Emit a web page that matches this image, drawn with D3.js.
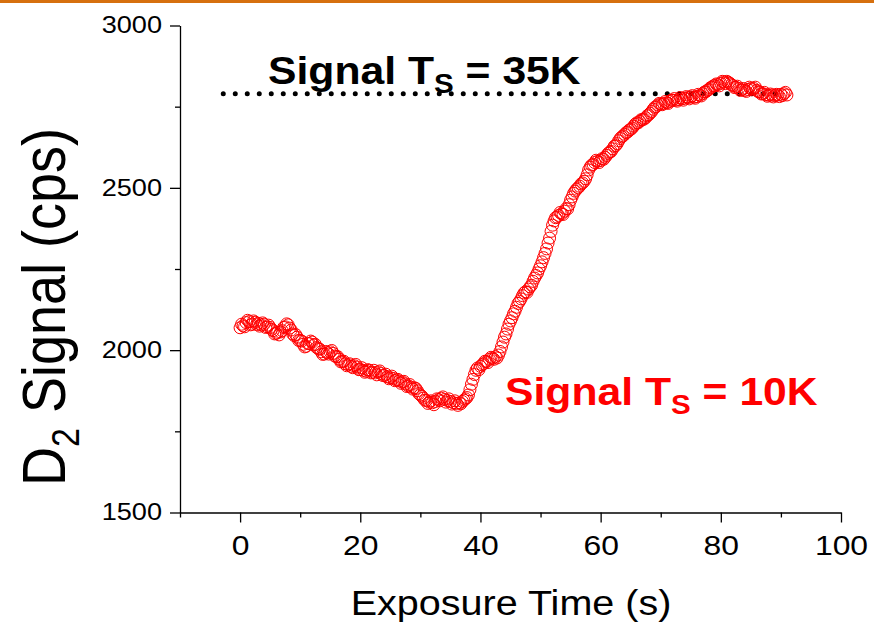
<!DOCTYPE html>
<html>
<head>
<meta charset="utf-8">
<script src="https://cdn.jsdelivr.net/npm/d3@7"></script>
<style>
  body { margin: 0; background: #fff; }
  svg text { font-family: "Liberation Sans", Arial, sans-serif; }
</style>
</head>
<body>
<div id="chart"></div>
<script>
// D2 signal, one reading every quarter second from t = 0
const sampleStep = 0.25;
const signalValues = [
  2069, 2080, 2075, 2072, 2085, 2092, 2088, 2078, 2080, 2090,
  2086, 2079, 2083, 2074, 2078, 2084, 2080, 2070, 2072, 2077,
  2070, 2064, 2060, 2050, 2052, 2055, 2047, 2056, 2060, 2070,
  2072, 2081, 2078, 2068, 2062, 2050, 2045, 2048, 2040, 2030,
  2030, 2028, 2018, 2010, 2012, 2021, 2020, 2028, 2025, 2016,
  2018, 2008, 2005, 2003, 1995, 1987, 1988, 1996, 1992, 1988,
  1995, 1999, 1990, 1982, 1980, 1980, 1972, 1964, 1965, 1966,
  1958, 1952, 1955, 1958, 1950, 1946, 1952, 1956, 1948, 1940,
  1940, 1946, 1938, 1932, 1935, 1940, 1938, 1930, 1932, 1938,
  1930, 1924, 1933, 1936, 1928, 1922, 1922, 1926, 1918, 1912,
  1915, 1920, 1913, 1906, 1908, 1910, 1905, 1898, 1902, 1904,
  1896, 1888, 1890, 1894, 1886, 1880, 1884, 1882, 1875, 1866,
  1862, 1858, 1852, 1846, 1845, 1836, 1840, 1844, 1838, 1832,
  1842, 1850, 1848, 1844, 1852, 1856, 1848, 1840, 1845, 1850,
  1842, 1834, 1838, 1844, 1836, 1830, 1838, 1835, 1842, 1846,
  1850, 1854, 1862, 1878, 1895, 1910, 1925, 1938, 1945, 1940,
  1950, 1955, 1958, 1966, 1965, 1962, 1972, 1978, 1975, 1972,
  1980, 1976, 1985, 1996, 2010, 2025, 2040, 2050, 2065, 2080,
  2090, 2100, 2112, 2120, 2132, 2144, 2150, 2158, 2168, 2176,
  2180, 2178, 2188, 2195, 2200, 2212, 2222, 2230, 2238, 2250,
  2260, 2272, 2285, 2298, 2312, 2330, 2345, 2366, 2385, 2398,
  2408, 2410, 2415, 2424, 2420, 2418, 2428, 2436, 2435, 2448,
  2462, 2472, 2483, 2490, 2496, 2500, 2505, 2512, 2515, 2520,
  2528, 2540, 2555, 2564, 2570, 2572, 2578, 2585, 2582, 2578,
  2584, 2590, 2588, 2594, 2600, 2606, 2610, 2612, 2620, 2628,
  2630, 2636, 2645, 2652, 2657, 2660, 2665, 2670, 2672, 2678,
  2680, 2684, 2690, 2696, 2700, 2700, 2705, 2710, 2710, 2712,
  2716, 2722, 2725, 2730, 2735, 2742, 2748, 2750, 2755, 2760,
  2758, 2756, 2760, 2766, 2762, 2760, 2766, 2770, 2770, 2775,
  2770, 2767, 2772, 2778, 2774, 2770, 2776, 2781, 2778, 2774,
  2780, 2784, 2779, 2776, 2781, 2788, 2785, 2783, 2790, 2795,
  2796, 2800, 2803, 2808, 2810, 2814, 2815, 2820, 2818, 2814,
  2822, 2828, 2826, 2821, 2828, 2825, 2822, 2818, 2815, 2809,
  2810, 2813, 2806, 2800, 2802, 2806, 2800, 2797, 2803, 2810,
  2806, 2802, 2806, 2810, 2800, 2796, 2795, 2789, 2790, 2794,
  2787, 2782, 2785, 2789, 2786, 2780, 2784, 2788, 2786, 2781,
  2788, 2784, 2790, 2794, 2786
];

// saturation level at Ts = 35K (dotted line)
const refLevel = 2790;
const refStart = -2.8;
const refEnd = 89.3;

const xDomain = [-10, 100];
const yDomain = [1500, 3000];
const xTicks = [0, 20, 40, 60, 80, 100];
const xMinorTicks = [-10, 10, 30, 50, 70, 90];
const yTicks = [1500, 2000, 2500, 3000];
const yMinorTicks = [1750, 2250, 2750];

class SignalChart {
  constructor(_config, _data) {
    this.config = {
      parentElement: _config.parentElement,
      containerWidth: _config.containerWidth || 874,
      containerHeight: _config.containerHeight || 623,
      margin: _config.margin || { top: 25.5, right: 33, bottom: 110.5, left: 180 },
    };
    this.data = _data;
    this.initVis();
  }

  initVis() {
    let vis = this;
    vis.width = vis.config.containerWidth - vis.config.margin.left - vis.config.margin.right;
    vis.height = vis.config.containerHeight - vis.config.margin.top - vis.config.margin.bottom;

    vis.root = d3.select(vis.config.parentElement)
      .append("svg")
      .attr("width", vis.config.containerWidth)
      .attr("height", vis.config.containerHeight);

    // orange rule along the top of the slide
    vis.root.append("rect")
      .attr("x", 0).attr("y", 0)
      .attr("width", vis.config.containerWidth)
      .attr("height", 3)
      .attr("fill", "#d6700f");

    vis.svg = vis.root.append("g")
      .attr("transform", `translate(${vis.config.margin.left},${vis.config.margin.top})`);

    vis.x = d3.scaleLinear().domain(xDomain).range([0, vis.width]);
    vis.y = d3.scaleLinear().domain(yDomain).range([vis.height, 0]);

    this.renderVis();
  }

  renderVis() {
    let vis = this;
    const stretch = 1.18;

    // minor ticks first, then the labelled axes on top
    vis.svg.append("g")
      .attr("transform", `translate(0,${vis.height})`)
      .call(d3.axisBottom(vis.x).tickValues(xMinorTicks).tickSize(5).tickFormat(""))
      .call(g => g.select(".domain").remove());
    vis.svg.append("g")
      .call(d3.axisLeft(vis.y).tickValues(yMinorTicks).tickSize(5).tickFormat(""))
      .call(g => g.select(".domain").remove());

    const xAxisG = vis.svg.append("g")
      .attr("transform", `translate(0,${vis.height})`)
      .call(d3.axisBottom(vis.x).tickValues(xTicks).tickFormat(d3.format("d"))
        .tickSize(10).tickSizeOuter(0).tickPadding(13));
    xAxisG.selectAll("text")
      .attr("font-size", 27)
      .attr("fill", "#000")
      .attr("transform", `scale(${stretch},1)`);

    const yAxisG = vis.svg.append("g")
      .call(d3.axisLeft(vis.y).tickValues(yTicks).tickFormat(d3.format("d"))
        .tickSize(10).tickSizeOuter(0).tickPadding(8));
    yAxisG.selectAll("text")
      .attr("font-size", 23)
      .attr("fill", "#000")
      .attr("x", 0)
      .attr("transform", `translate(-18,0) scale(${stretch},1)`);

    vis.svg.selectAll(".domain, .tick line")
      .attr("stroke", "#000")
      .attr("stroke-width", 1.3);

    // dotted reference line
    vis.svg.append("line")
      .attr("x1", vis.x(refStart)).attr("x2", vis.x(refEnd))
      .attr("y1", vis.y(refLevel)).attr("y2", vis.y(refLevel))
      .attr("stroke", "#000")
      .attr("stroke-width", 5)
      .attr("stroke-linecap", "round")
      .attr("stroke-dasharray", "0 12");

    // open circle markers
    vis.svg.append("g")
      .selectAll("circle")
      .data(vis.data)
      .join("circle")
      .attr("cx", (d, i) => vis.x(i * sampleStep))
      .attr("cy", d => vis.y(d))
      .attr("r", 6)
      .attr("fill", "none")
      .attr("stroke", "#ff0000")
      .attr("stroke-width", 1);

    // axis titles
    vis.root.append("text")
      .attr("transform", `translate(511,615) scale(1.13,1)`)
      .attr("text-anchor", "middle")
      .attr("font-size", 35)
      .text("Exposure Time (s)");

    const yTitle = vis.root.append("text")
      .attr("transform", `translate(65,307) scale(1.13,1) rotate(-90)`)
      .attr("text-anchor", "middle")
      .attr("font-size", 54);
    yTitle.append("tspan").text("D");
    yTitle.append("tspan").attr("font-size", 34).attr("dy", 12).text("2");
    yTitle.append("tspan").attr("dy", -12).text(" Signal (cps)");

    // annotations
    vis.addLabel(268, 84, "#000", "35K");
    vis.addLabel(505, 405, "#ff0000", "10K");
  }

  addLabel(x, y, color, temp) {
    let vis = this;
    const t = vis.root.append("text")
      .attr("transform", `translate(${x},${y}) scale(1.095,1)`)
      .attr("font-size", 39)
      .attr("font-weight", "bold")
      .attr("fill", color);
    t.append("tspan").text("Signal T");
    t.append("tspan").attr("font-size", 27).attr("dy", 9).text("S");
    t.append("tspan").attr("dy", -9).text(" = " + temp);
  }
}

new SignalChart({ parentElement: "#chart" }, signalValues);
</script>
</body>
</html>
